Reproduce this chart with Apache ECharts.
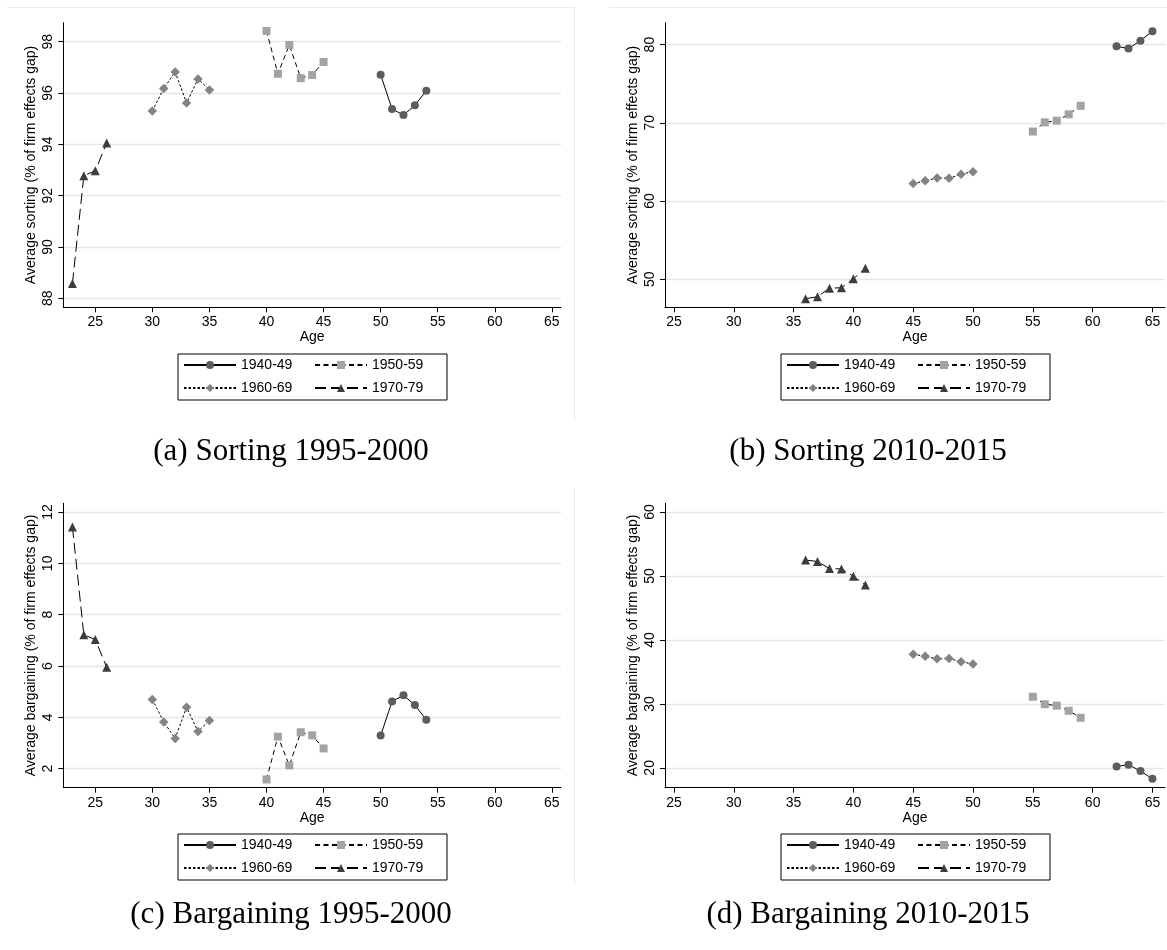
<!DOCTYPE html>
<html>
<head>
<meta charset="utf-8">
<script src="https://cdn.jsdelivr.net/npm/echarts@6/dist/echarts.min.js"></script>
<style>
  html, body { margin: 0; padding: 0; background: #ffffff; }
  #chart { width: 1167px; height: 950px; }
</style>
</head>
<body>
<div id="chart"></div>
<script>
// Birth cohorts shown in every panel
const cohorts = ['1940-49', '1950-59', '1960-69', '1970-79'];

// Ages observed for each cohort, 1995-2000 window
const ages40Early = [50, 51, 52, 53, 54];
const ages50Early = [40, 41, 42, 43, 44, 45];
const ages60Early = [30, 31, 32, 33, 34, 35];
const ages70Early = [23, 24, 25, 26];

// Ages observed for each cohort, 2010-2015 window
const ages40Late = [62, 63, 64, 65];
const ages50Late = [55, 56, 57, 58, 59];
const ages60Late = [45, 46, 47, 48, 49, 50];
const ages70Late = [36, 37, 38, 39, 40, 41];

// Average sorting (% of firm effects gap), 1995-2000
const sortEarly40 = [96.71, 95.38, 95.14, 95.52, 96.09];
const sortEarly50 = [98.42, 96.75, 97.87, 96.58, 96.70, 97.21];
const sortEarly60 = [95.30, 96.18, 96.82, 95.61, 96.55, 96.12];
const sortEarly70 = [88.58, 92.78, 92.97, 94.05];

// Average sorting (% of firm effects gap), 2010-2015
const sortLate40 = [79.78, 79.50, 80.50, 81.72];
const sortLate50 = [68.88, 70.05, 70.27, 71.08, 72.17];
const sortLate60 = [62.22, 62.57, 62.95, 62.90, 63.42, 63.75];
const sortLate70 = [47.50, 47.75, 48.85, 48.90, 50.05, 51.40];

// Average bargaining (% of firm effects gap), 1995-2000
const bargEarly40 = [3.29, 4.62, 4.86, 4.48, 3.91];
const bargEarly50 = [1.58, 3.25, 2.13, 3.42, 3.30, 2.79];
const bargEarly60 = [4.70, 3.82, 3.18, 4.39, 3.45, 3.88];
const bargEarly70 = [11.42, 7.22, 7.03, 5.95];

// Average bargaining (% of firm effects gap), 2010-2015
const bargLate40 = [20.22, 20.50, 19.50, 18.28];
const bargLate50 = [31.12, 29.95, 29.73, 28.92, 27.83];
const bargLate60 = [37.78, 37.43, 37.05, 37.10, 36.58, 36.25];
const bargLate70 = [52.50, 52.25, 51.15, 51.10, 49.95, 48.60];

// Tick labels
const ageTicks = [25, 30, 35, 40, 45, 50, 55, 60, 65];
const sortEarlyTicks = [88, 90, 92, 94, 96, 98];
const sortLateTicks = [50, 60, 70, 80];
const bargEarlyTicks = [2, 4, 6, 8, 10, 12];
const bargLateTicks = [20, 30, 40, 50, 60];

// Captions under each panel
const captions = ['(a) Sorting 1995-2000', '(b) Sorting 2010-2015',
                  '(c) Bargaining 1995-2000', '(d) Bargaining 2010-2015'];
const yTitles = ['Average sorting (% of firm effects gap)', 'Average sorting (% of firm effects gap)',
                 'Average bargaining (% of firm effects gap)', 'Average bargaining (% of firm effects gap)'];

// Per-cohort marker and line look
const cohortStyle = {
  '1940-49': { symbol: 'circle',   color: '#5c5c5c', dash: 'solid',  size: 8 },
  '1950-59': { symbol: 'rect',     color: '#a3a3a3', dash: [5, 3.5], size: 8 },
  '1960-69': { symbol: 'diamond',  color: '#838383', dash: [2.5, 2], size: 9.5 },
  '1970-79': { symbol: 'triangle', color: '#3d3d3d', dash: [11, 5], size: 9 }
};

const SANS = 'Liberation Sans, Arial, sans-serif';

// Panel geometry and axis extents
const panels = [
  { grid: { left: 63.3, top: 22.7, width: 497.7, height: 284.6 }, x: [22.2, 65.8],  y: [87.65, 98.74], yTicks: sortEarlyTicks,
    ages: [ages40Early, ages50Early, ages60Early, ages70Early], vals: [sortEarly40, sortEarly50, sortEarly60, sortEarly70] },
  { grid: { left: 665, top: 22.7, width: 500, height: 284.6 },     x: [24.25, 66.05], y: [46.4, 82.8],   yTicks: sortLateTicks,
    ages: [ages40Late, ages50Late, ages60Late, ages70Late],     vals: [sortLate40, sortLate50, sortLate60, sortLate70] },
  { grid: { left: 63.3, top: 503.3, width: 497.7, height: 284.4 }, x: [22.2, 65.8],  y: [1.26, 12.34],  yTicks: bargEarlyTicks,
    ages: [ages40Early, ages50Early, ages60Early, ages70Early], vals: [bargEarly40, bargEarly50, bargEarly60, bargEarly70] },
  { grid: { left: 665, top: 503.3, width: 500, height: 284.4 },    x: [24.25, 66.05], y: [16.9, 61.36],  yTicks: bargLateTicks,
    ages: [ages40Late, ages50Late, ages60Late, ages70Late],     vals: [bargLate40, bargLate50, bargLate60, bargLate70] }
];

const legendPos = [
  { left: 178, top: 354 }, { left: 781, top: 354 },
  { left: 178, top: 834 }, { left: 781, top: 834 }
];
const captionPos = [
  { left: 291, top: 436 }, { left: 868, top: 436 },
  { left: 291, top: 899 }, { left: 868, top: 899 }
];

const grids = [], xAxes = [], yAxes = [], series = [], legends = [], titles = [];

panels.forEach((p, i) => {
  grids.push(Object.assign({ outerBoundsMode: 'none', containLabel: false }, p.grid));

  xAxes.push({
    type: 'value', gridIndex: i, min: p.x[0], max: p.x[1],
    name: 'Age', nameLocation: 'middle', nameGap: 23, nameMoveOverlap: false,
    nameTextStyle: { fontFamily: SANS, fontSize: 14, color: '#000' },
    axisLine: { show: true, onZero: false, lineStyle: { color: '#000', width: 1 } },
    axisTick: { show: true, length: 5, customValues: ageTicks, lineStyle: { color: '#000', width: 1 } },
    axisLabel: { show: true, customValues: ageTicks, fontFamily: SANS, fontSize: 14, color: '#000', margin: 8 },
    splitLine: { show: false }
  });

  yAxes.push({
    type: 'value', gridIndex: i, min: p.y[0], max: p.y[1],
    name: yTitles[i], nameLocation: 'middle', nameGap: 25, nameRotate: 90, nameMoveOverlap: false,
    nameTextStyle: { fontFamily: SANS, fontSize: 14, color: '#000' },
    axisLine: { show: true, onZero: false, lineStyle: { color: '#000', width: 1 } },
    axisTick: { show: true, length: 5, customValues: p.yTicks, lineStyle: { color: '#000', width: 1 } },
    axisLabel: { show: true, customValues: p.yTicks, rotate: 90, fontFamily: SANS, fontSize: 14, color: '#000', margin: 8 },
    splitLine: { show: true, lineStyle: { color: '#e6e6e6', width: 1.3 } }
  });

  cohorts.forEach((c, k) => {
    const st = cohortStyle[c];
    series.push({
      name: c, type: 'line', xAxisIndex: i, yAxisIndex: i,
      data: p.ages[k].map((a, j) => [a, p.vals[k][j]]),
      symbol: st.symbol, symbolSize: st.size, showSymbol: true,
      lineStyle: { color: '#000', width: 1, type: st.dash },
      itemStyle: { color: st.color, borderWidth: 0 },
      emphasis: { disabled: true },
      animation: false, z: 3
    });
  });

  legends.push({
    left: legendPos[i].left, top: legendPos[i].top, width: 255,
    orient: 'horizontal', data: cohorts.slice(),
    itemWidth: 52, itemHeight: 10, itemGap: 7,
    padding: [3, 9, 4, 5],
    borderColor: '#000', borderWidth: 1, borderRadius: 0, backgroundColor: '#fff',
    selectedMode: false,
    textStyle: { fontFamily: SANS, fontSize: 14, color: '#000', width: 66, lineHeight: 16 }
  });

  titles.push({
    text: captions[i], left: captionPos[i].left, top: captionPos[i].top, textAlign: 'center', padding: 0,
    textStyle: { fontFamily: 'Liberation Serif, Times New Roman, serif', fontSize: 31, fontWeight: 'normal', color: '#000' }
  });
});

// Faint outlines of the individual graph regions
const edge = { stroke: '#ececec', lineWidth: 1 };
const frames = [
  { type: 'line', shape: { x1: 7, y1: 7.5, x2: 574, y2: 7.5 }, style: edge, silent: true },
  { type: 'line', shape: { x1: 574.5, y1: 7, x2: 574.5, y2: 421 }, style: edge, silent: true },
  { type: 'line', shape: { x1: 609, y1: 7.5, x2: 1167, y2: 7.5 }, style: edge, silent: true },
  { type: 'line', shape: { x1: 574.5, y1: 488, x2: 574.5, y2: 885 }, style: edge, silent: true }
];

const chart = echarts.init(document.getElementById('chart'), null, { renderer: 'canvas' });
chart.setOption({
  animation: false,
  backgroundColor: '#ffffff',
  grid: grids, xAxis: xAxes, yAxis: yAxes,
  series: series, legend: legends, title: titles,
  graphic: frames
});
</script>
</body>
</html>
